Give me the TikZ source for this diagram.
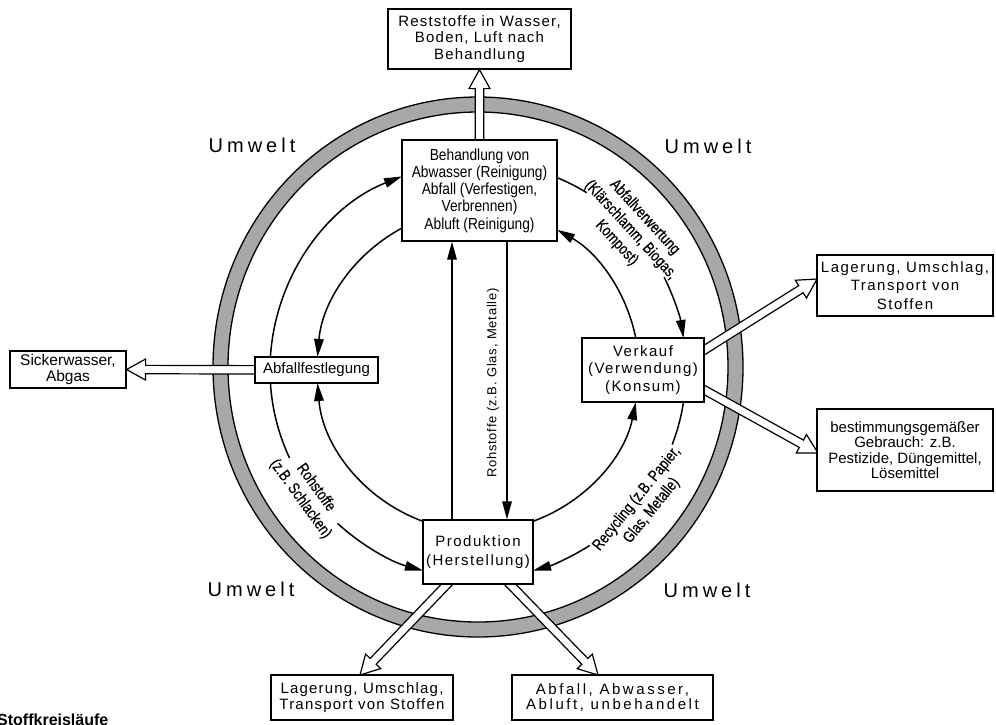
\documentclass[tikz,border=0pt]{standalone}
\usepackage{fontspec}
\setmainfont{Liberation Sans}
\newfontfamily\fsR[LetterSpace=8]{Liberation Sans}
\newfontfamily\fsV[LetterSpace=10]{Liberation Sans}
\newfontfamily\fsW[LetterSpace=17]{Liberation Sans}
\newfontfamily\fsU[LetterSpace=20]{Liberation Sans}
\newfontfamily\fsG[LetterSpace=6]{Liberation Sans}
\newfontfamily\fsN[FakeStretch=0.86]{Liberation Sans}
\newfontfamily\fsC[FakeStretch=0.8, FakeBold=0.4]{Liberation Sans}
\usetikzlibrary{calc,arrows.meta}
\pgfdeclarelayer{ringlayer}
\pgfdeclarelayer{connlayer}
\pgfsetlayers{ringlayer,connlayer,main}
\definecolor{ringgray}{gray}{0.66}
\newcommand\harrow[2]{%
  \coordinate (hb) at ($(#2)!19pt!(#1)$);
  \draw[hollow] ($(#1)!4.2pt!90:(#2)$) -- ($(hb)!4.2pt!90:(#2)$) -- ($(hb)!10.5pt!90:(#2)$) -- (#2)
    -- ($(hb)!10.5pt!-90:(#2)$) -- ($(hb)!4.2pt!-90:(#2)$) -- ($(#1)!4.2pt!-90:(#2)$) -- cycle;}
\begin{document}
\begin{tikzpicture}[x=1pt,y=1pt,
  box/.style={draw, line width=1.2pt, fill=white, inner sep=0pt, align=center},
  conn/.style={line width=1.5pt, -{Triangle[length=18pt,width=9.5pt]}},
  plainarc/.style={line width=1.5pt},
  hollow/.style={draw, line width=1.2pt, fill=white, line join=miter},
  umw/.style={font={\fsU\fontsize{20}{20}\selectfont}},
  arclabel/.style={align=center, inner sep=0pt, font={\fsC\fontsize{16}{19}\selectfont}}]
\useasboundingbox (0,0) rectangle (996,-724);

% boxes
\node[box, minimum width=183pt, minimum height=60pt, font={\fsR\fontsize{15}{16.8}\selectfont}] (rest) at (479.5,-39) {Reststoffe in Wasser,\\Boden, Luft nach\\Behandlung};
\node[box, minimum width=155pt, minimum height=101pt, font={\fsN\fontsize{16}{17.2}\selectfont}] (beh) at (479.5,-190.5) {Behandlung von\\Abwasser (Reinigung)\\Abfall (Verfestigen,\\Verbrennen)\\Abluft (Reinigung)};
\node[box, minimum width=123pt, minimum height=26pt, font={\fontsize{15}{16}\selectfont}] (abf) at (316.5,-370) {Abfallfestlegung};
\node[box, minimum width=116pt, minimum height=37pt, font={\fontsize{15.5}{16}\selectfont}] (sick) at (68,-369.5) {Sickerwasser,\\Abgas};
\node[box, minimum width=122pt, minimum height=64pt, font={\fsV\fontsize{15}{17.5}\selectfont}] (verk) at (643,-370) {Verkauf\\(Verwendung)\\(Konsum)};
\node[box, minimum width=176pt, minimum height=61pt, font={\fsV\fontsize{15}{18.5}\selectfont}] (lag2) at (905,-285.5) {Lagerung, Umschlag,\\Transport von\\Stoffen};
\node[box, minimum width=176pt, minimum height=82pt, font={\fontsize{15}{15.5}\selectfont}] (best) at (905,-450) {bestimmungsgemäßer\\Gebrauch: z.B.\\Pestizide, Düngemittel,\\Lösemittel};
\node[box, minimum width=110pt, minimum height=64pt, font={\fsV\fontsize{15}{18.5}\selectfont}] (prod) at (478,-552) {Produktion\\(Herstellung)};
\node[box, minimum width=182pt, minimum height=45pt, font={\fsR\fontsize{15}{15.5}\selectfont}] (lag1) at (362,-697.5) {Lagerung, Umschlag,\\Transport von Stoffen};
\node[box, minimum width=201pt, minimum height=45pt, font={\fsW\fontsize{15}{15.5}\selectfont}] (abw) at (612.5,-697.5) {Abfall, Abwasser,\\Abluft, unbehandelt};

% Umwelt labels
\node[umw] (u1) at (252,-145) {Umwelt};
\node[umw] (u2) at (708,-146) {Umwelt};
\node[umw] (u3) at (251,-589) {Umwelt};
\node[umw] (u4) at (707,-590) {Umwelt};

% arc labels
\node[arclabel, rotate=-47.5] (lv) at (630.6,-230.1) {Abfallverwertung\\(Klärschlamm, Biogas,\\Kompost)};
\node[arclabel, rotate=-54] (ls) at (308.1,-493.4) {Rohstoffe\\(z.B. Schlacken)};
\node[arclabel, rotate=51] (lr) at (644.3,-504.7) {Recycling (z.B. Papier,\\Glas, Metalle)};
\node[rotate=90, inner sep=0pt, font={\fsG\fontsize{13}{13}\selectfont}] (lg) at (493,-383) {Rohstoffe (z.B. Glas, Metalle)};

\node[anchor=base west, inner sep=0pt, font={\bfseries\fontsize{16}{16}\selectfont}] (title) at (-3,-725) {Stoffkreisläufe};

% ring
\begin{pgfonlayer}{ringlayer}
\fill[ringgray, even odd rule] (478,-367) ellipse[x radius=265pt, y radius=270pt] (478,-367) ellipse[x radius=250pt, y radius=255pt];
\draw[line width=1.3pt] (478,-367) ellipse[x radius=265pt, y radius=270pt];
\draw[line width=1.3pt] (478,-367) ellipse[x radius=250pt, y radius=255pt];
\end{pgfonlayer}

% connectors
\begin{pgfonlayer}{connlayer}
\coordinate (C) at (478,-370);
% outer arcs r=208
\draw[conn] ($(C)+(178:208pt)$) arc[start angle=178, end angle=111.43, radius=208pt];
\draw[plainarc] ($(C)+(182:208pt)$) arc[start angle=182, end angle=205, radius=208pt];
\draw[conn] ($(C)+(227.5:208pt)$) arc[start angle=227.5, end angle=254.67, radius=208pt];
\draw[plainarc] ($(C)+(70:208pt)$) arc[start angle=70, end angle=58.5, radius=208pt];
\draw[conn] ($(C)+(26.5:208pt)$) arc[start angle=26.5, end angle=8.85, radius=208pt];
\draw[plainarc] ($(C)+(-7:208pt)$) arc[start angle=-7, end angle=-21, radius=208pt];
\draw[conn] ($(C)+(-57.5:208pt)$) arc[start angle=-57.5, end angle=-74.67, radius=208pt];
% inner arcs r=161
\draw[conn] ($(C)+(115:161pt)$) arc[start angle=115, end angle=175.37, radius=161pt];
\draw[conn] ($(C)+(252:161pt)$) arc[start angle=252, end angle=184.63, radius=161pt];
\draw[conn] ($(C)+(9:161pt)$) arc[start angle=9, end angle=60.61, radius=161pt];
\draw[conn] ($(C)+(-72:161pt)$) arc[start angle=-72, end angle=-11.47, radius=161pt];
% vertical lines
\draw[conn] ([xshift=-26pt]prod.north) -- ([xshift=-27.5pt]beh.south);
\draw[conn] ([xshift=27.5pt]beh.south) -- ([xshift=29pt]prod.north);
% hollow arrows
\coordinate (v1) at (690,-359);
\coordinate (t1) at (817,-279);
\coordinate (v2) at (690,-382);
\coordinate (t2) at (818,-453);
\coordinate (p1) at (455,-576);
\coordinate (t3) at (360,-675);
\coordinate (p2) at (502,-576);
\coordinate (t4) at (598,-675);
\harrow{beh.center}{rest.south}
\harrow{abf.center}{sick.east}
\harrow{v1}{t1}
\harrow{v2}{t2}
\harrow{p1}{t3}
\harrow{p2}{t4}
\end{pgfonlayer}
\end{tikzpicture}
\end{document}
